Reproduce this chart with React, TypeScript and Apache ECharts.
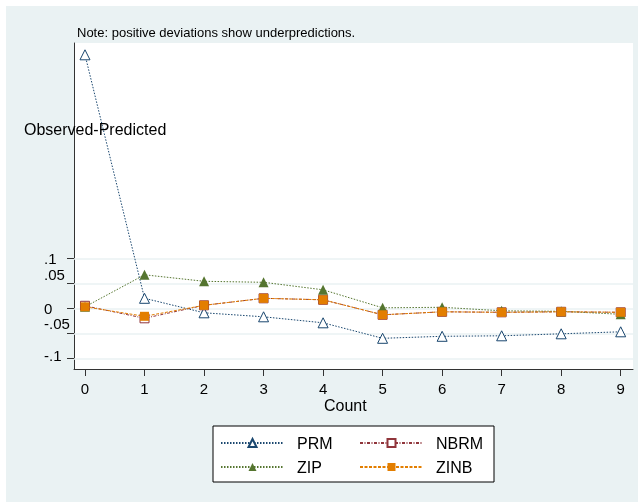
import React, { useEffect, useRef } from 'react';
import * as echarts from 'echarts';

const counts = [0, 1, 2, 3, 4, 5, 6, 7, 8, 9];
const prm = [0.507, 0.02, -0.009, -0.017, -0.029, -0.06, -0.056, -0.055, -0.051, -0.047];
const nbrm = [0.005, -0.02, 0.006, 0.02, 0.017, -0.013, -0.007, -0.008, -0.007, -0.008];
const zip = [0.003, 0.067, 0.054, 0.052, 0.037, 0.001, 0.002, -0.005, -0.006, -0.012];
const zinb = [0.003, -0.016, 0.006, 0.02, 0.017, -0.013, -0.007, -0.008, -0.007, -0.008];
const yTicks = [-0.1, -0.05, 0, 0.05, 0.1];
const yTickLabels = ['-.1', '-.05', '0', '.05', '.1'];
const seriesNames = ['PRM', 'NBRM', 'ZIP', 'ZINB'];

const FONT = '"Liberation Sans", Arial, sans-serif';
const NAVY = '#1a476f';
const MAROON = '#90353b';
const GREEN = '#55752f';
const ORANGE = '#e37e00';
const BG = '#eaf2f3';

export default function App() {
  const ref = useRef<HTMLDivElement>(null);
  useEffect(() => {
    if (!ref.current) return;
    const chart = echarts.init(ref.current, undefined, { renderer: 'svg' });
    const pts = (vals: number[]) => counts.map((c, i) => [c, vals[i]]);
    const labelMap: Record<string, string> = {};
    yTicks.forEach((v, i) => (labelMap[String(v)] = yTickLabels[i]));
    chart.setOption({
      animation: false,
      textStyle: { fontFamily: FONT },
      graphic: [
        {
          type: 'rect',
          z: -10,
          silent: true,
          shape: { x: 6, y: 6, width: 632, height: 496 },
          style: { fill: BG },
        },
        {
          type: 'text',
          left: 77,
          top: 26,
          style: { text: 'Note: positive deviations show underpredictions.', font: `13px ${FONT}`, fill: '#000' },
        },
        {
          type: 'text',
          left: 24,
          top: 121,
          z: 10,
          style: { text: 'Observed-Predicted', font: `16px ${FONT}`, fill: '#000' },
        },
        {
          type: 'text',
          left: 324,
          top: 397,
          style: { text: 'Count', font: `16px ${FONT}`, fill: '#000' },
        },
      ],
      grid: {
        left: 74,
        top: 43,
        width: 559,
        height: 326,
        show: true,
        backgroundColor: '#fff',
        borderWidth: 0,
      },
      xAxis: {
        type: 'value',
        min: -0.1848,
        max: 9.2067,
        axisLine: { show: true, onZero: false, lineStyle: { color: '#333', width: 1 } },
        axisTick: { show: true, length: 7, lineStyle: { color: '#333' }, customValues: counts },
        axisLabel: { customValues: counts, fontSize: 15, color: '#000', margin: 12, fontFamily: FONT },
        splitLine: { show: false },
      },
      yAxis: {
        type: 'value',
        min: -0.1214,
        max: 0.5306,
        axisLine: { show: true, onZero: false, lineStyle: { color: '#333', width: 1 } },
        axisTick: { show: true, length: 7, lineStyle: { color: '#333' }, customValues: yTicks },
        axisLabel: {
          customValues: yTicks,
          fontSize: 15,
          color: '#000',
          margin: 30,
          align: 'left',
          fontFamily: FONT,
          formatter: (v: number) => {
            const key = String(Math.round(v * 100) / 100);
            const t = labelMap[key] ?? '';
            if (t === '.05') return `{a|${t}}`;
            if (t === '-.05') return `{b|${t}}`;
            if (t === '-.1') return `{c|${t}}`;
            return t;
          },
          rich: {
            a: { fontSize: 15, padding: [0, 0, 17, 0], fontFamily: FONT, color: '#000' },
            b: { fontSize: 15, padding: [0, 0, 19, 0], fontFamily: FONT, color: '#000' },
            c: { fontSize: 15, padding: [0, 0, 5, 0], fontFamily: FONT, color: '#000' },
          },
        },
        splitLine: { show: false },
      },
      legend: {
        data: seriesNames,
        left: 213,
        top: 426,
        width: 272,
        orient: 'horizontal',
        itemWidth: 63,
        itemHeight: 10,
        itemGap: 8,
        padding: [9, 4, 7, 7],
        backgroundColor: '#fff',
        borderColor: '#000',
        borderWidth: 1,
        borderRadius: 0,
        textStyle: {
          fontSize: 16,
          color: '#000',
          width: 54,
          lineHeight: 16,
          padding: [0, 0, 0, 8],
          fontFamily: FONT,
        },
      },
      series: [
        {
          name: 'PRM',
          type: 'line',
          data: pts(prm),
          symbol: 'triangle',
          symbolSize: 10,
          z: 3,
          lineStyle: { color: NAVY, width: 1, type: [1.5, 1.5] },
          itemStyle: { color: '#fff', borderColor: NAVY, borderWidth: 1 },
          markLine: {
            silent: true,
            z: 1,
            symbol: 'none',
            label: { show: false },
            lineStyle: { color: BG, width: 1.5, type: 'solid' },
            data: yTicks.map((v) => ({ yAxis: v })),
          },
        },
        {
          name: 'NBRM',
          type: 'line',
          data: pts(nbrm),
          symbol: 'rect',
          symbolSize: 9,
          z: 4,
          lineStyle: { color: MAROON, width: 1, type: [3, 1.5, 1, 1.5] },
          itemStyle: { color: '#fff', borderColor: MAROON, borderWidth: 1 },
        },
        {
          name: 'ZIP',
          type: 'line',
          data: pts(zip),
          symbol: 'triangle',
          symbolSize: 10,
          z: 5,
          lineStyle: { color: GREEN, width: 1, type: [1.5, 1.5] },
          itemStyle: { color: GREEN, borderColor: GREEN, borderWidth: 0 },
        },
        {
          name: 'ZINB',
          type: 'line',
          data: pts(zinb),
          symbol: 'rect',
          symbolSize: 9,
          z: 6,
          lineStyle: { color: ORANGE, width: 1, type: [3, 1.5] },
          itemStyle: { color: ORANGE, borderColor: ORANGE, borderWidth: 0 },
        },
      ],
    });
    return () => chart.dispose();
  }, []);
  return <div ref={ref} style={{ position: 'fixed', left: 0, top: 0, width: 638, height: 502 }} />;
}
